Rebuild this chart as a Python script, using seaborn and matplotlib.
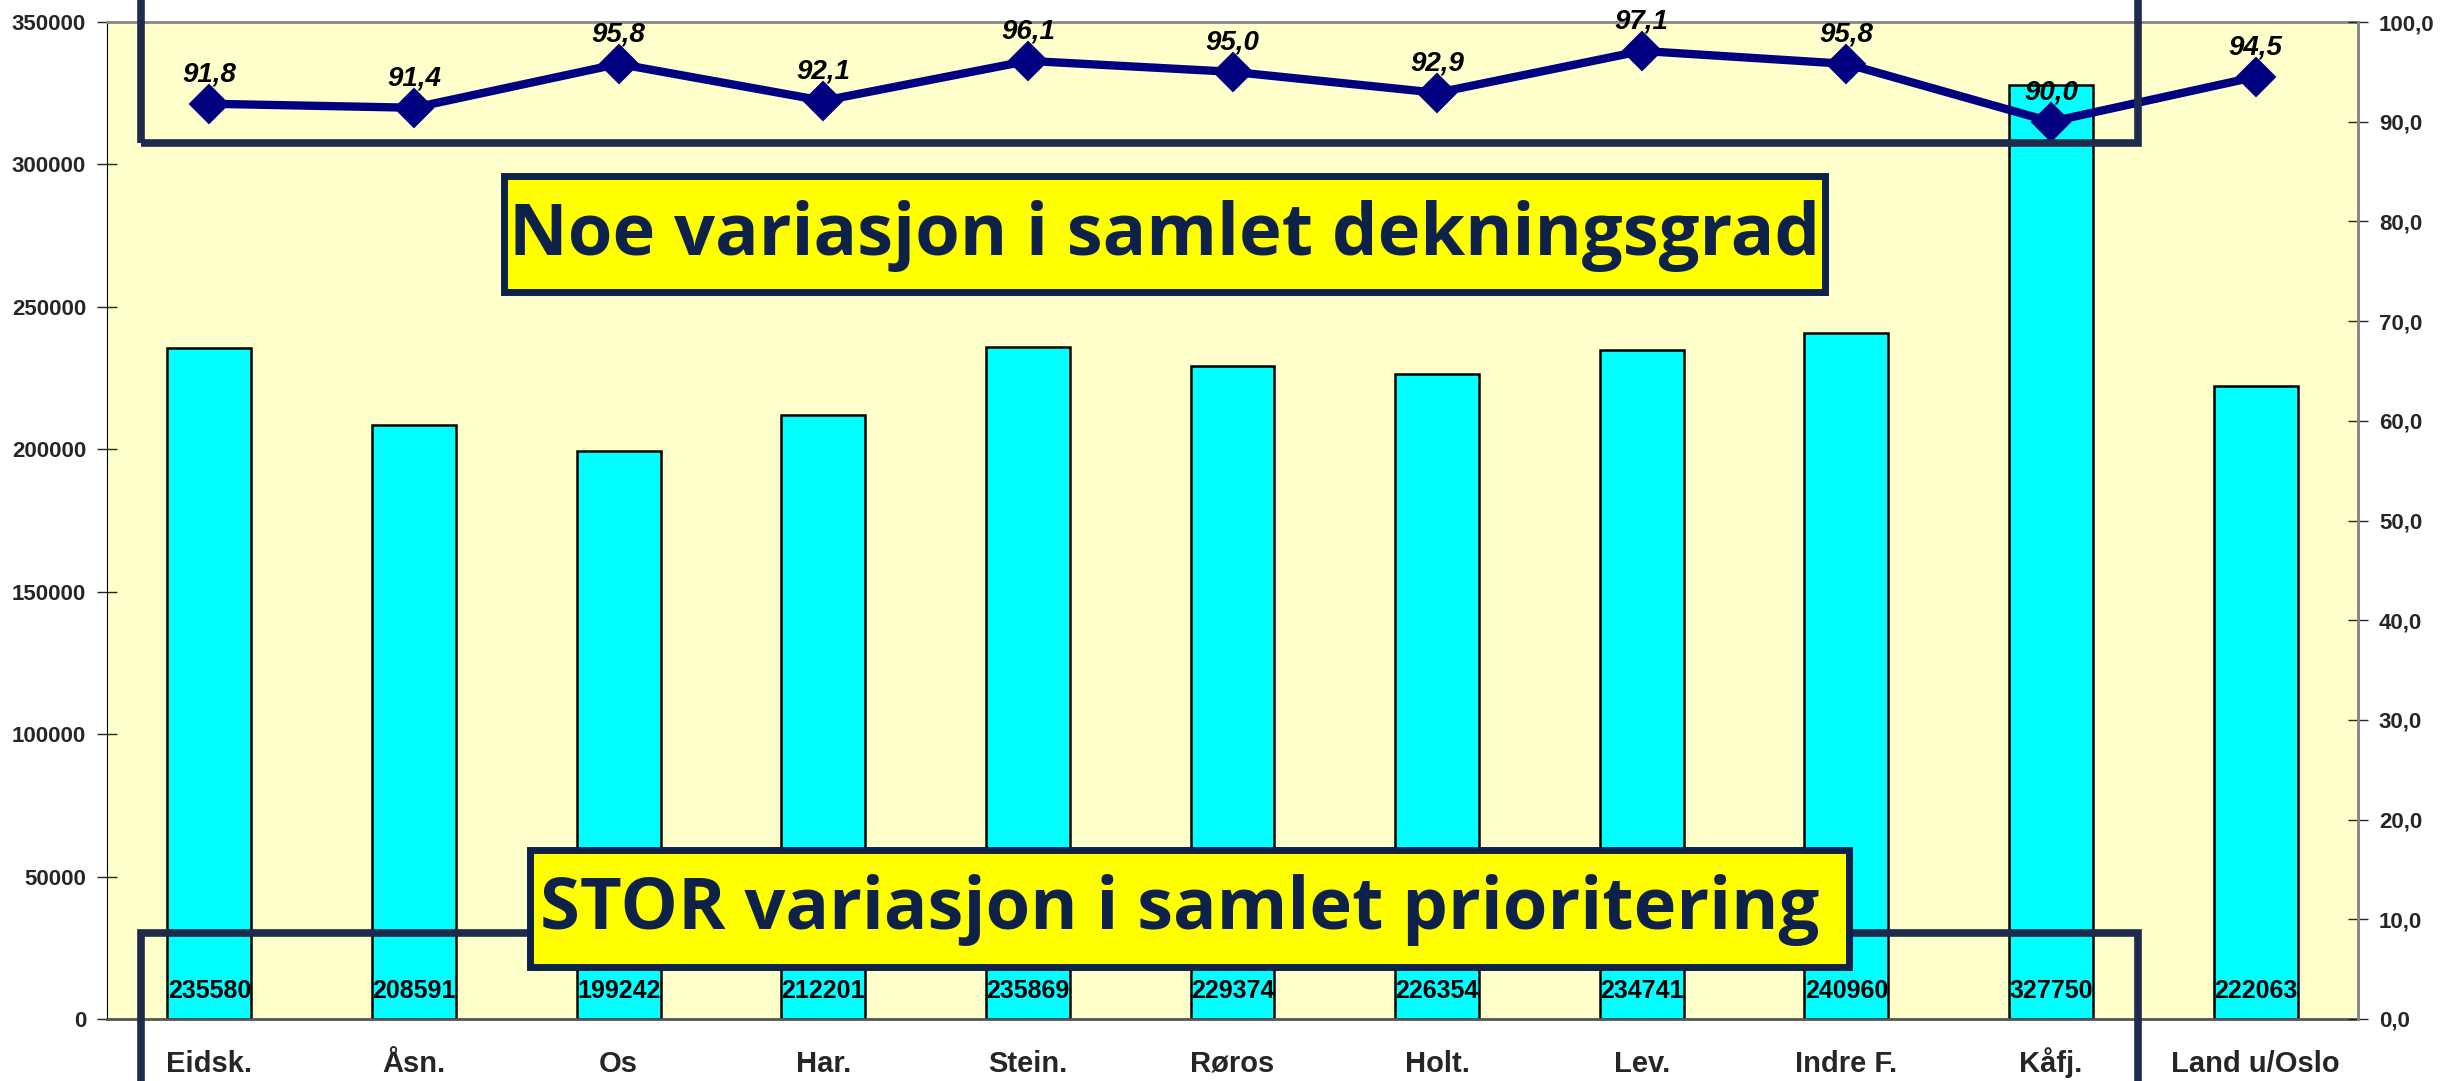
import numpy as np
import pandas as pd
import matplotlib
matplotlib.use("Agg")
import matplotlib.pyplot as plt
from matplotlib import font_manager
from matplotlib.patches import Rectangle
from matplotlib.ticker import FuncFormatter, FixedLocator
import seaborn as sns

# data
kommuner = ["Eidsk.", "Åsn.", "Os", "Har.", "Stein.", "Røros", "Holt.", "Lev.",
            "Indre F.", "Kåfj.", "Land u/Oslo"]
prioritering = [235580, 208591, 199242, 212201, 235869, 229374, 226354, 234741,
                240960, 327750, 222063]
dekningsgrad = [91.8, 91.4, 95.8, 92.1, 96.1, 95.0, 92.9, 97.1, 95.8, 90.0, 94.5]

df = pd.DataFrame({"kommune": kommuner, "prioritering": prioritering,
                   "dekningsgrad": dekningsgrad})

sns.set_style("white")
names = {f.name for f in font_manager.fontManager.ttflist}
narrow = "Liberation Sans Narrow" if "Liberation Sans Narrow" in names else "Liberation Sans"
plt.rcParams["font.family"] = [narrow, "DejaVu Sans"]

W, H = 2446, 1081
fig = plt.figure(figsize=(W / 100, H / 100), dpi=100)
fig.patch.set_facecolor("white")
ax = fig.add_axes([107 / W, 1 - 1019 / H, (2358 - 107) / W, (1019 - 22) / H])
ax.set_facecolor("#FFFFCC")

sns.barplot(data=df, x="kommune", y="prioritering", ax=ax, color="#00FFFF",
            saturation=1, width=0.41, edgecolor="black", linewidth=1.8, zorder=2)
ax.set_ylim(0, 350000)
ax.set_xlim(-0.5, len(kommuner) - 0.5)
ax.set_xlabel("")
ax.set_ylabel("")
ax.set_yticks(np.arange(0, 350001, 50000))
ax.tick_params(axis="y", direction="inout", length=14, width=1, labelsize=16, pad=8)
for lab in ax.get_yticklabels():
    lab.set_fontweight("bold")
ax.tick_params(axis="x", which="major", length=0, labelsize=21, pad=38)
for lab in ax.get_xticklabels():
    lab.set_fontweight("bold")
    lab.set_verticalalignment("baseline")
ax.xaxis.set_minor_locator(FixedLocator(np.arange(-0.5, len(kommuner), 1.0)))
ax.tick_params(axis="x", which="minor", direction="out", length=14, width=1)
for s in ["top", "right"]:
    ax.spines[s].set_color("#888888")
    ax.spines[s].set_linewidth(2)
ax.spines["left"].set_color("black")
ax.spines["bottom"].set_color("#555555")
ax.spines["bottom"].set_linewidth(2)

for i, v in enumerate(prioritering):
    ax.text(i, 5500, str(v), ha="center", va="bottom", fontsize=18,
            fontweight="bold", color="black", zorder=4)

ax2 = ax.twinx()
ax2.set_position(ax.get_position())
sns.pointplot(data=df, x="kommune", y="dekningsgrad", ax=ax2, color="#000080",
              markers="D", markersize=16, linewidth=6, errorbar=None)
ax2.set_ylim(0, 100)
ax2.set_xlim(-0.5, len(kommuner) - 0.5)
ax2.set_ylabel("")
ax2.set_xlabel("")
ax2.set_yticks(np.arange(0, 101, 10))
ax2.yaxis.set_major_formatter(FuncFormatter(lambda v, p: f"{v:.1f}".replace(".", ",")))
ax2.tick_params(axis="y", direction="inout", length=14, width=1, labelsize=16, pad=8)
for lab in ax2.get_yticklabels():
    lab.set_fontweight("bold")
for s in ax2.spines.values():
    s.set_visible(False)
ax2.spines["right"].set_visible(True)
ax2.spines["right"].set_color("#888888")
ax2.spines["right"].set_linewidth(2)

for i, v in enumerate(dekningsgrad):
    ax2.annotate(f"{v:.1f}".replace(".", ","), (i, v), xytext=(0, 12),
                 textcoords="offset points", ha="center", va="bottom",
                 fontsize=20, fontweight="bold", fontstyle="italic", color="black")

# highlight frames (pixel coords of the figure)
frame = "#1F2B4D"
def fig_rect(x0, y0, x1, y1, **kw):
    r = Rectangle((x0 / W, 1 - y1 / H), (x1 - x0) / W, (y1 - y0) / H,
                  transform=fig.transFigure, clip_on=False, **kw)
    fig.add_artist(r)

fig_rect(141, -20, 2138, 143, fill=False, edgecolor=frame, linewidth=5.5, zorder=10)
fig_rect(141, 933, 2138, 1110, fill=False, edgecolor=frame, linewidth=5.5, zorder=10)

text_col = "#0D2149"
fig_rect(504, 176, 1825, 292, facecolor="#FFFF00", edgecolor=text_col, linewidth=5, zorder=11)
fig.text(1165 / W, 1 - 236 / H, "Noe variasjon i samlet dekningsgrad", ha="center",
         va="center", fontsize=52, fontweight="bold", color=text_col,
         family=["Open Sans", "DejaVu Sans"], zorder=12)
fig_rect(530, 850, 1849, 967, facecolor="#FFFF00", edgecolor=text_col, linewidth=5, zorder=11)
fig.text(1180 / W, 1 - 910 / H, "STOR variasjon i samlet prioritering", ha="center",
         va="center", fontsize=52, fontweight="bold", color=text_col,
         family=["Open Sans", "DejaVu Sans"], zorder=12)

fig.savefig("out.png", dpi=100, facecolor="white")
